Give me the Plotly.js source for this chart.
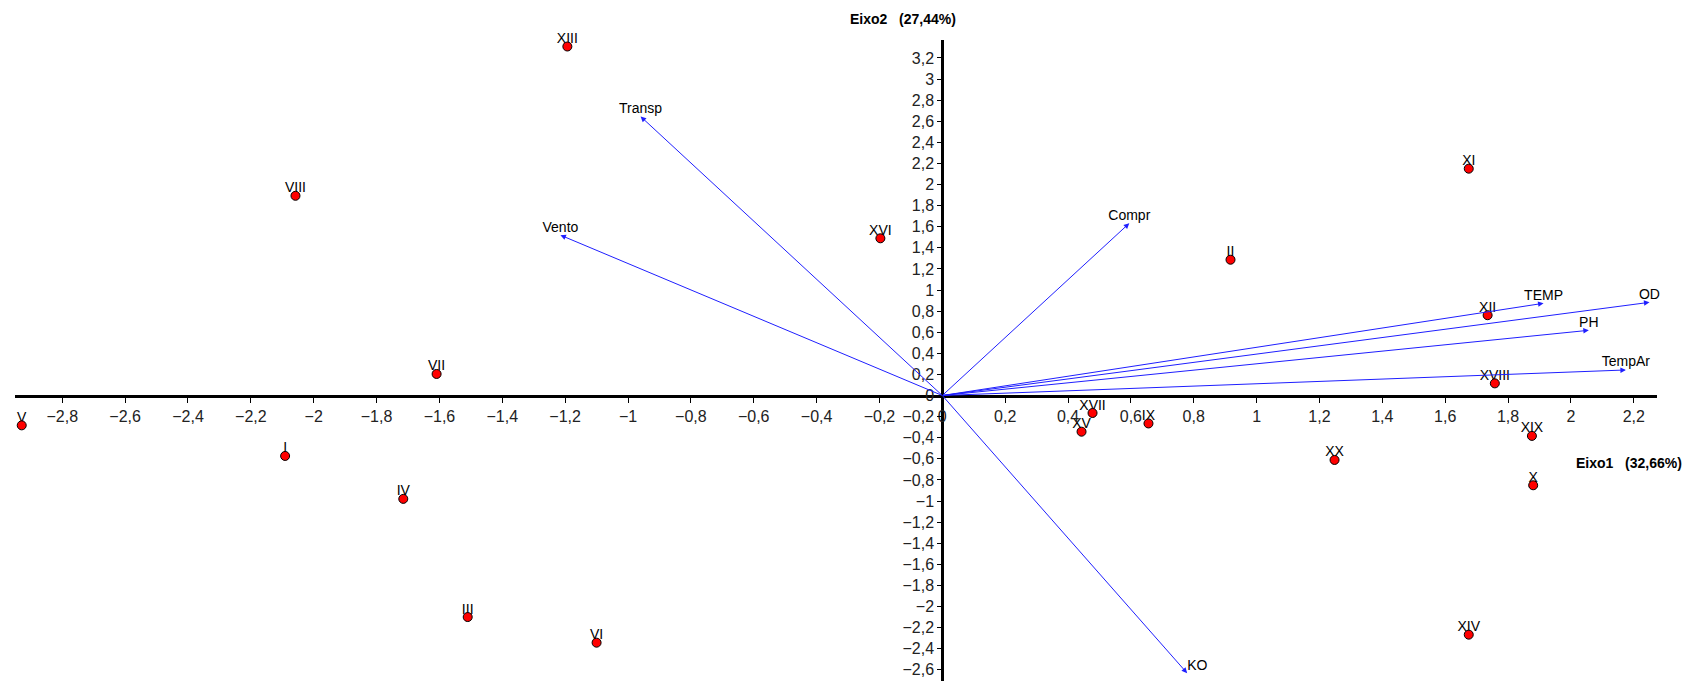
<!DOCTYPE html>
<html>
<head>
<meta charset="utf-8">
<script src="https://cdn.plot.ly/plotly-3.0.1.min.js"></script>
<style>html,body{margin:0;padding:0;background:#fff;}#chart{width:1688px;height:681px;}</style>
</head>
<body>
<div id="chart"></div>
<script>
// Sample scores (rows)
var sampleNames = ['I','II','III','IV','V','VI','VII','VIII','IX','X','XI','XII','XIII','XIV','XV','XVI','XVII','XVIII','XIX','XX'];
var sampleX = [-2.091, 0.917, -1.51, -1.715, -2.929, -1.10, -1.609, -2.058, 0.656, 1.88, 1.675, 1.735, -1.193, 1.675, 0.443, -0.197, 0.478, 1.758, 1.876, 1.248];
var sampleY = [-0.573, 1.287, -2.10, -0.98, -0.283, -2.343, 0.204, 1.893, -0.265, -0.851, 2.15, 0.761, 3.308, -2.267, -0.343, 1.49, -0.166, 0.115, -0.383, -0.611];

// Variable loadings (vectors)
var varNames = ['Transp','Vento','Compr','TEMP','OD','PH','TempAr','KO'];
var varX = [-0.96, -1.215, 0.595, 1.913, 2.25, 2.057, 2.175, 0.779];
var varY = [2.645, 1.52, 1.633, 0.874, 0.883, 0.618, 0.242, -2.632];
var varLabelPos = ['top center','top center','top center','top center','top center','top center','top center','top right'];

// Axis titles
var xTitle = 'Eixo1\u00a0\u00a0\u00a0(32,66%)';
var yTitle = 'Eixo2\u00a0\u00a0\u00a0(27,44%)';

var FONT = 'Liberation Sans, Arial, sans-serif';

var traces = [
  {
    type: 'scatter', mode: 'text',
    x: varX, y: varY, text: varNames,
    textposition: varLabelPos,
    textfont: {family: FONT, size: 14, color: '#000'},
    hoverinfo: 'skip', cliponaxis: false, showlegend: false
  },
  {
    type: 'scatter', mode: 'text',
    x: sampleX, y: sampleY, text: sampleNames,
    textposition: 'top center',
    textfont: {family: FONT, size: 14, color: '#000'},
    hoverinfo: 'skip', cliponaxis: false, showlegend: false
  },
  {
    type: 'scatter', mode: 'markers',
    x: sampleX, y: sampleY,
    marker: {size: 9, color: '#ff0000', line: {color: '#000', width: 1}},
    hoverinfo: 'skip', cliponaxis: false, showlegend: false
  }
];

var annotations = [];
for (var i = 0; i < varNames.length; i++) {
  annotations.push({
    x: varX[i], y: varY[i], xref: 'x', yref: 'y',
    ax: 0, ay: 0, axref: 'x', ayref: 'y',
    text: ' ', font: {size: 1}, borderpad: 0,
    showarrow: true, arrowhead: 2, arrowsize: 1.1, arrowwidth: 1,
    arrowcolor: '#1f1fff', standoff: 0, startstandoff: 0
  });
}
annotations.push({
  xref: 'paper', yref: 'paper', x: 903/1688, y: 1 - 19/681,
  xanchor: 'center', yanchor: 'middle', showarrow: false,
  text: '<b>' + yTitle + '</b>', font: {family: FONT, size: 14, color: '#000'}
});
annotations.push({
  xref: 'paper', yref: 'paper', x: 1684/1688, y: 1 - 463/681,
  xanchor: 'right', yanchor: 'middle', showarrow: false,
  text: '<b>' + xTitle + '</b>', font: {family: FONT, size: 14, color: '#000'}
});

var layout = {
  width: 1688, height: 681,
  margin: {l: 0, r: 0, t: 0, b: 0, pad: 0},
  paper_bgcolor: '#fff', plot_bgcolor: '#fff',
  separators: ', ',
  showlegend: false,
  font: {family: FONT, size: 16, color: '#222'},
  xaxis: {
    domain: [15/1688, 1656.7/1688],
    range: [-2.9504, 2.2730],
    anchor: 'free', position: 285.5/681, side: 'bottom',
    showline: true, linecolor: '#000', linewidth: 3,
    showgrid: false, zeroline: false,
    ticks: 'outside', ticklen: 5, tickwidth: 1, tickcolor: '#000',
    tick0: 0, dtick: 0.2, tickangle: 0,
    tickfont: {family: FONT, size: 16, color: '#222'}
  },
  yaxis: {
    domain: [0, 641/681],
    range: [-2.7062, 3.3697],
    anchor: 'free', position: 942.3/1688, side: 'left',
    showline: true, linecolor: '#000', linewidth: 3,
    showgrid: false, zeroline: false,
    ticks: 'outside', ticklen: 4, tickwidth: 1, tickcolor: '#000',
    tick0: 0, dtick: 0.2,
    tickfont: {family: FONT, size: 16, color: '#222'}
  },
  annotations: annotations
};

Plotly.newPlot('chart', traces, layout, {staticPlot: true, displayModeBar: false});
</script>
</body>
</html>
